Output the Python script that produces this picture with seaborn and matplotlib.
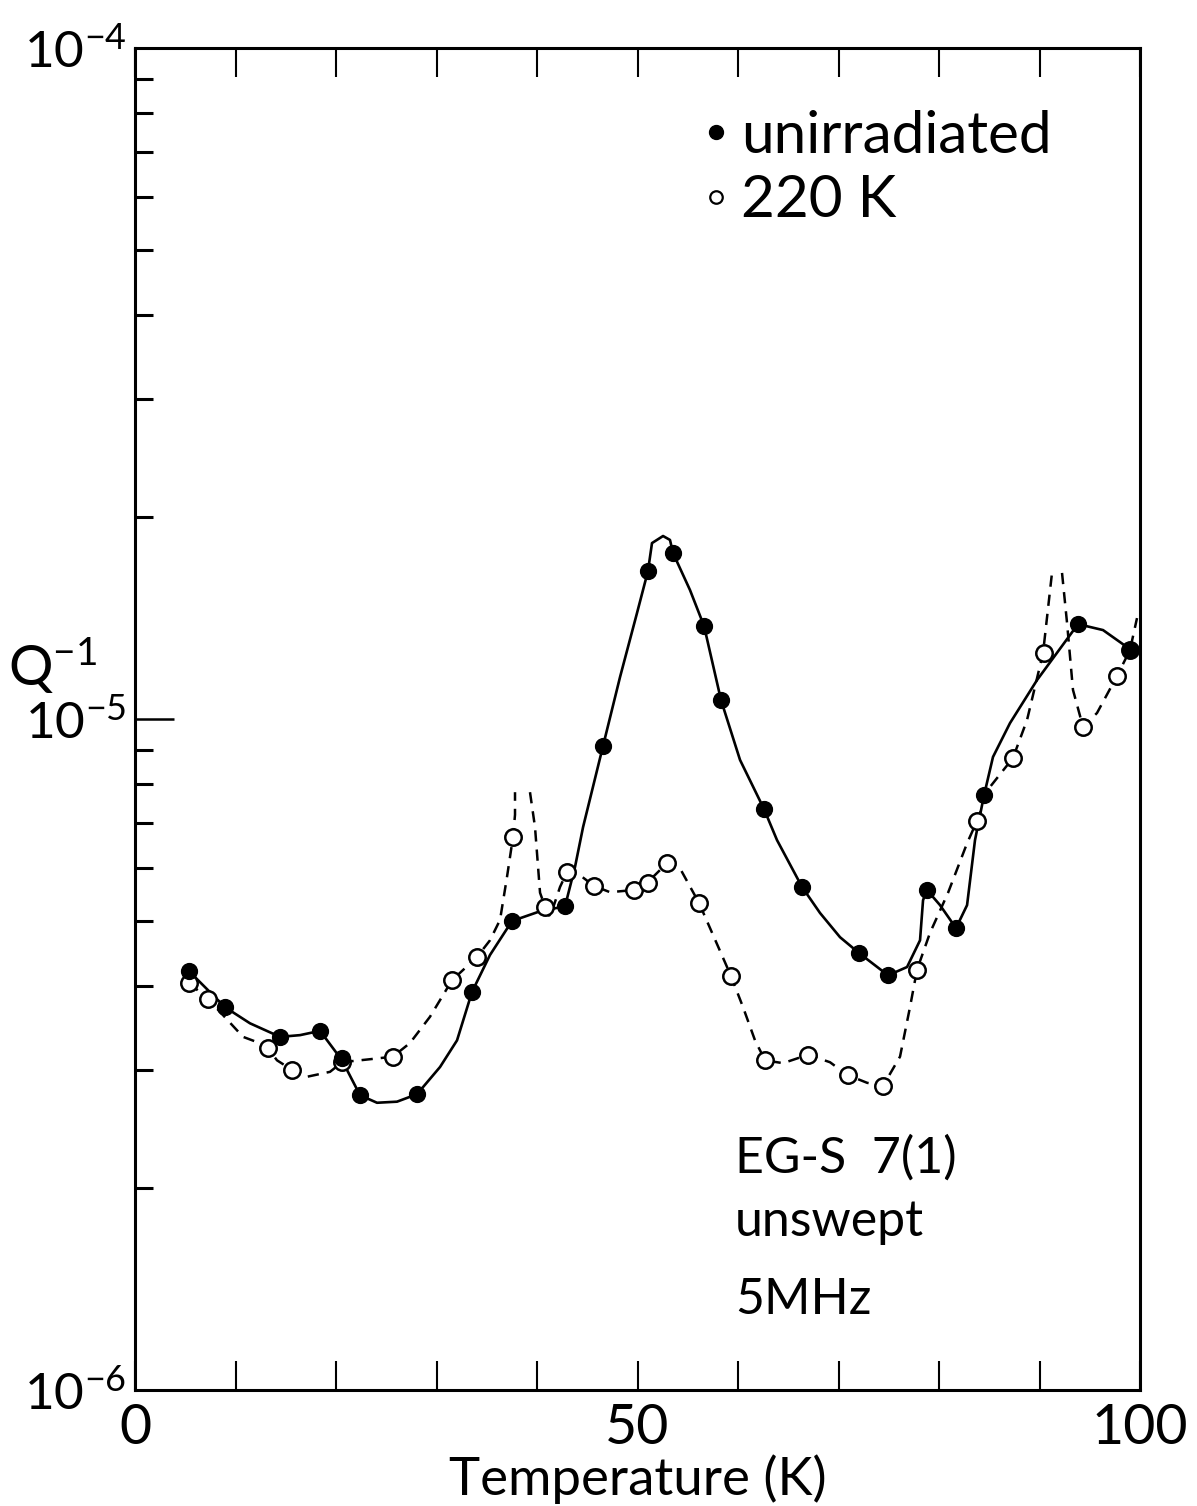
import numpy as np
import pandas as pd
import matplotlib
matplotlib.use("Agg")
import matplotlib.pyplot as plt
import seaborn as sns
from matplotlib.lines import Line2D
from matplotlib.ticker import FixedLocator, FixedFormatter, LogLocator, NullFormatter

# ---------------------------------------------------------------------------
# Internal friction Q^-1 vs temperature, EG-S 7(1) unswept quartz, 5 MHz
# ---------------------------------------------------------------------------

# measured points: unirradiated
unirr_T = [5.4, 9.0, 14.4, 18.4, 20.6, 22.4, 28.1, 33.5, 37.5, 42.8, 46.6, 51.0,
           53.5, 56.6, 58.3, 62.6, 66.4, 72.0, 74.9, 78.8, 81.7, 84.5, 93.8, 99.0]
unirr_Q = [4.21e-6, 3.72e-6, 3.36e-6, 3.43e-6, 3.12e-6, 2.75e-6, 2.76e-6, 3.92e-6,
           5.00e-6, 5.26e-6, 9.12e-6, 1.662e-5, 1.768e-5, 1.376e-5, 1.067e-5, 7.34e-6,
           5.62e-6, 4.48e-6, 4.15e-6, 5.56e-6, 4.88e-6, 7.70e-6, 1.385e-5, 1.267e-5]

# measured points: after 220 K irradiation
irr_T = [5.4, 7.3, 13.2, 15.6, 20.6, 25.7, 31.5, 34.0, 37.6, 40.8, 43.0, 45.7, 49.6, 51.0,
         52.9, 56.1, 59.3, 62.7, 67.0, 70.9, 74.4, 77.8, 83.8, 87.4, 90.4, 94.3, 97.7, 99.0]
irr_Q = [4.04e-6, 3.83e-6, 3.23e-6, 3.00e-6, 3.08e-6, 3.14e-6, 4.08e-6, 4.42e-6, 6.67e-6,
         5.25e-6, 5.92e-6, 5.64e-6, 5.56e-6, 5.70e-6, 6.10e-6, 5.32e-6, 4.14e-6, 3.10e-6,
         3.16e-6, 2.95e-6, 2.84e-6, 4.23e-6, 7.05e-6, 8.75e-6, 1.254e-5, 9.73e-6, 1.159e-5,
         1.267e-5]

# hand-drawn guide curve through the unirradiated data (units of 1e-6 for Q)
guide_unirr_T = [5.37, 8.96, 11.44, 14.43, 16.42, 18.41, 20.60, 22.39, 24.08, 26.07, 28.06,
                 30.35, 32.04, 33.53, 35.32, 37.51, 40.30, 42.79, 43.78, 44.58, 46.57, 48.26,
                 49.95, 51.04, 51.44, 52.54, 53.23, 53.53, 55.22, 56.62, 58.31, 60.20, 62.59,
                 63.88, 66.37, 68.16, 70.15, 72.04, 74.93, 76.82, 78.11, 78.41, 78.81, 80.10,
                 81.69, 82.79, 83.58, 84.48, 85.37, 87.06, 89.75, 93.83, 96.32, 98.71, 100.0]
guide_unirr_Q = [4.21, 3.72, 3.52, 3.36, 3.38, 3.43, 3.10, 2.75, 2.68, 2.69, 2.76,
                 3.03, 3.32, 3.92, 4.45, 5.00, 5.17, 5.26, 6.02, 6.90, 9.12, 11.55,
                 14.39, 16.62, 18.29, 18.74, 18.49, 17.68, 15.57, 13.76, 10.67, 8.69, 7.34,
                 6.60, 5.62, 5.14, 4.73, 4.48, 4.15, 4.27, 4.68, 5.37, 5.56, 5.28,
                 4.88, 5.28, 6.60, 7.70, 8.78, 9.86, 11.43, 13.85, 13.57, 12.80, 12.54]

# dashed guide curve for the 220 K data, broken at the two off-scale spikes
guide_irr_seg = [0] * 24 + [1] * 37 + [2] * 8
guide_irr_T = [5.37, 7.26, 8.46, 10.75, 12.14, 13.23, 14.13, 15.62, 17.11, 19.40, 20.60,
               24.08, 25.67, 27.36, 29.35, 31.54, 34.03, 35.32, 36.32, 37.0, 37.61, 37.81,
               37.81, 37.81,
               39.30, 39.80, 40.30, 40.80, 41.29, 42.29, 42.99, 44.28, 45.67, 47.26, 49.55,
               50.95, 52.94, 54.23, 56.12, 59.30, 60.50, 61.69, 62.69, 64.48, 66.97, 69.15,
               70.85, 72.84, 74.43, 76.12, 77.11, 77.81, 79.10, 80.90, 82.79, 83.78, 85.07,
               87.36, 88.76, 90.35, 91.24,
               92.24, 92.74, 93.33, 94.33, 95.72, 97.71, 99.00, 99.70]
guide_irr_Q = [4.04, 3.83, 3.66, 3.36, 3.30, 3.23, 3.10, 3.00, 2.93, 2.98, 3.08,
               3.12, 3.14, 3.29, 3.60, 4.08, 4.42, 4.68, 5.02, 5.80, 6.67, 7.20,
               7.50, 7.78,
               7.78, 6.90, 5.51, 5.25, 5.07, 5.62, 5.92, 5.85, 5.64, 5.52, 5.56,
               5.70, 6.10, 5.99, 5.32, 4.14, 3.72, 3.32, 3.10, 3.07, 3.16, 3.08,
               2.95, 2.87, 2.84, 3.14, 3.72, 4.23, 4.80, 5.51, 6.53, 7.05, 7.92,
               8.75, 9.97, 12.54, 16.51,
               16.51, 13.90, 11.05, 9.73, 10.21, 11.59, 12.67, 14.14]

x_ticks = [0, 10, 20, 30, 40, 50, 60, 70, 80, 90, 100]
x_ticklabels = ["0", "", "", "", "", "50", "", "", "", "", "100"]
y_ticks = [1e-6, 1e-5, 1e-4]
y_ticklabels = [r"$10^{-6}$", r"$10^{-5}$", r"$10^{-4}$"]

legend_labels = ["unirradiated", "220 K"]
sample_lines = ["EG-S  7(1)", "unswept", "5MHz"]

# ---------------------------------------------------------------------------
sns.set_style("ticks")
plt.rcParams["font.family"] = ["Lato", "DejaVu Sans"]
plt.rcParams["mathtext.fontset"] = "custom"
plt.rcParams["mathtext.rm"] = "Lato"
plt.rcParams["mathtext.it"] = "Lato"
plt.rcParams["mathtext.sf"] = "Lato"
plt.rcParams["axes.unicode_minus"] = False
for key in ["text.color", "axes.labelcolor", "xtick.color", "ytick.color",
            "xtick.labelcolor", "ytick.labelcolor"]:
    plt.rcParams[key] = "black"

fig = plt.figure(figsize=(11.97, 15.06), dpi=100, facecolor="white")
ax = fig.add_axes([0.1128, 0.0770, 0.8396, 0.8911])

df_unirr_guide = pd.DataFrame({"T": guide_unirr_T, "Q": np.array(guide_unirr_Q) * 1e-6})
df_irr_guide = pd.DataFrame({"T": guide_irr_T, "Q": np.array(guide_irr_Q) * 1e-6,
                             "seg": guide_irr_seg})

sns.lineplot(data=df_unirr_guide, x="T", y="Q", sort=False, estimator=None,
             color="black", lw=1.9, ax=ax, zorder=2)
sns.lineplot(data=df_irr_guide, x="T", y="Q", units="seg", sort=False, estimator=None,
             color="black", lw=1.8, ax=ax, zorder=2)
for ln in ax.lines[1:]:
    ln.set_dashes((4.5, 3.2))

sns.scatterplot(x=irr_T, y=irr_Q, marker="o", s=140, facecolor="white",
                edgecolor="black", linewidth=1.8, ax=ax, zorder=3)
sns.scatterplot(x=unirr_T, y=unirr_Q, marker="o", s=130, color="black",
                edgecolor="black", linewidth=1.0, ax=ax, zorder=4)

ax.set_yscale("log")
ax.set_xlim(0, 100)
ax.set_ylim(1e-6, 1e-4)

ax.xaxis.set_major_locator(FixedLocator(x_ticks))
ax.xaxis.set_major_formatter(FixedFormatter(x_ticklabels))
ax.yaxis.set_major_locator(FixedLocator(y_ticks))
ax.yaxis.set_major_formatter(FixedFormatter(y_ticklabels))
ax.yaxis.set_minor_locator(LogLocator(base=10, subs=np.arange(2, 10)))
ax.yaxis.set_minor_formatter(NullFormatter())

ax.tick_params(axis="x", which="major", direction="in", top=True, bottom=True,
               length=21, width=1.5, pad=9, labelsize=40)
ax.tick_params(axis="y", which="major", direction="in", left=True, right=False,
               length=28, width=1.8, pad=6, labelsize=37)
ax.tick_params(axis="y", which="minor", direction="in", left=True, right=False,
               length=13, width=2.2)

for sp in ax.spines.values():
    sp.set_linewidth(2.2)
    sp.set_color("black")

ax.set_xlabel("Temperature (K)", fontsize=38, va="top")
ax.xaxis.set_label_coords(0.5, -0.048)
ax.set_ylabel(r"$\mathrm{Q}^{-1}$", fontsize=40, rotation=0, ha="center", va="center")
ax.yaxis.set_label_coords(-0.082, 0.54)

handles = [Line2D([], [], ls="", marker="o", markersize=10, color="black"),
           Line2D([], [], ls="", marker="o", markersize=9, mfc="white", mec="black",
                  mew=1.6)]
ax.legend(handles, legend_labels, loc="upper left", bbox_to_anchor=(0.565, 0.954),
          frameon=False, fontsize=42, handlelength=0.45, handletextpad=0.2,
          labelspacing=0.2, borderpad=0, borderaxespad=0)

for txt, ypos in zip(sample_lines, [0.162, 0.115, 0.057]):
    ax.text(0.597, ypos, txt, transform=ax.transAxes, fontsize=36, ha="left",
            va="baseline")

fig.savefig("out.png", dpi=100, facecolor="white")
